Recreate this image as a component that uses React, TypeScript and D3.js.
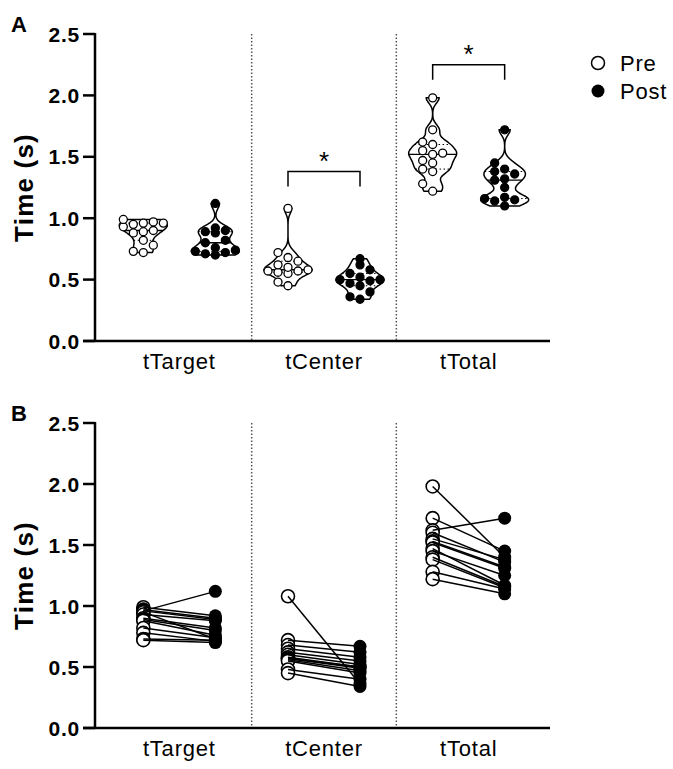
import React from "react";
import * as d3 from "d3";

// categories and conditions
const categories = ["tTarget", "tCenter", "tTotal"];
const conditions = ["Pre", "Post"];
const yTicks = [0, 0.5, 1.0, 1.5, 2.0, 2.5];

// per-subject times (s), same subject order in pre and post
const tTargetPre = [0.99, 0.97, 0.96, 0.96, 0.95, 0.93, 0.90, 0.89, 0.88, 0.82, 0.78, 0.73, 0.72];
const tTargetPost = [0.92, 0.90, 1.12, 0.89, 0.73, 0.88, 0.82, 0.80, 0.76, 0.74, 0.71, 0.72, 0.70];
const tCenterPre = [1.08, 0.72, 0.68, 0.65, 0.62, 0.60, 0.58, 0.57, 0.57, 0.56, 0.55, 0.48, 0.45];
const tCenterPost = [0.36, 0.67, 0.62, 0.58, 0.55, 0.52, 0.50, 0.50, 0.49, 0.47, 0.45, 0.40, 0.34];
const tTotalPre = [1.98, 1.72, 1.62, 1.60, 1.55, 1.53, 1.52, 1.47, 1.45, 1.40, 1.38, 1.28, 1.22];
const tTotalPost = [1.40, 1.45, 1.72, 1.36, 1.38, 1.32, 1.31, 1.17, 1.25, 1.16, 1.15, 1.14, 1.10];

// significance brackets
const sigCategories = ["tCenter", "tTotal"];
const sigHeights = [1.38, 2.25];

const FONT = "'Liberation Sans', Arial, Helvetica, sans-serif";

const preSets = [tTargetPre, tCenterPre, tTotalPre];
const postSets = [tTargetPost, tCenterPost, tTotalPost];

const xGroup = d3.scaleBand<string>().domain(categories).range([107, 541]);
const xCond = d3.scalePoint<string>().domain(conditions).range([-36, 36]);
const center = (c: string) => (xGroup(c) as number) + xGroup.bandwidth() / 2;
const xPos = (c: string, k: string) => center(c) + (xCond(k) as number);

const yA = d3.scaleLinear().domain([0, 2.5]).range([341, 34]);
const yB = d3.scaleLinear().domain([0, 2.5]).range([728, 423]);

const BW = 0.042;
const MAXW = 24;

function kde(values: number[], bw: number) {
  return (v: number) =>
    d3.mean(values, (d) => Math.exp(-0.5 * ((v - d) / bw) ** 2)) as number;
}

function Violin({ values, cx, y, filled }: { values: number[]; cx: number; y: d3.ScaleLinear<number, number>; filled: boolean }) {
  const [lo, hi] = d3.extent(values) as [number, number];
  const dens = kde(values, BW);
  const samples = d3.range(121).map((i) => lo + ((hi - lo) * i) / 120);
  const ds = samples.map(dens);
  const peak = d3.max(ds) as number;
  const wAt = (v: number) => (dens(v) / peak) * MAXW;
  const pts = samples.map((s, i) => [s, (ds[i] / peak) * MAXW] as [number, number]);
  const area = d3
    .area<[number, number]>()
    .y((d) => y(d[0]))
    .x0((d) => cx - d[1])
    .x1((d) => cx + d[1])
    .curve(d3.curveMonotoneY);

  const sorted = values.slice().sort((a, b) => a - b);
  const med = d3.quantile(sorted, 0.5) as number;
  const q1 = d3.quantile(sorted, 0.25) as number;
  const q3 = d3.quantile(sorted, 0.75) as number;

  // swarm placement, roughly inside the violin outline
  const r = 4;
  const placed: { x: number; y: number }[] = [];
  sorted.forEach((v) => {
    const py = y(v);
    const lim = wAt(v) + 3;
    let best = { x: cx, y: py };
    let bestHit = Infinity;
    for (let k = 0; k < 12; k++) {
      const off = (k % 2 === 0 ? 1 : -1) * Math.ceil(k / 2) * 10;
      if (k > 0 && Math.abs(off) > lim) continue;
      const px = cx + off;
      const hit = d3.sum(placed, (p) => Math.max(0, 8.5 - Math.hypot(p.x - px, p.y - py)));
      if (hit < bestHit - 0.01) {
        bestHit = hit;
        best = { x: px, y: py };
      }
      if (hit === 0) break;
    }
    placed.push(best);
  });

  return (
    <g>
      <path d={area(pts) as string} fill="#fff" stroke="#000" strokeWidth={1.5} />
      <line x1={cx - wAt(med)} x2={cx + wAt(med)} y1={y(med)} y2={y(med)} stroke="#000" strokeWidth={1.4} />
      {[q1, q3].map((q, i) => (
        <line key={i} x1={cx - wAt(q)} x2={cx + wAt(q)} y1={y(q)} y2={y(q)} stroke="#000" strokeWidth={1} strokeDasharray="1.5 2.5" />
      ))}
      {placed.map((p, i) => (
        <circle key={i} cx={p.x} cy={p.y} r={r} fill={filled ? "#000" : "#fff"} stroke="#000" strokeWidth={1.3} />
      ))}
    </g>
  );
}

function Axes({ y, label }: { y: d3.ScaleLinear<number, number>; label: string }) {
  const [y0, y1] = y.range();
  const midY = (y0 + y1) / 2;
  return (
    <g fontFamily={FONT}>
      {categories.slice(1).map((c) => (
        <line key={c} x1={xGroup(c)} x2={xGroup(c)} y1={y1} y2={y0} stroke="#555" strokeWidth={1.5} strokeDasharray="1.5 2" />
      ))}
      <line x1={95} x2={95} y1={y1 - 1} y2={y0} stroke="#000" strokeWidth={2.5} />
      <line x1={83} x2={550} y1={y0} y2={y0} stroke="#000" strokeWidth={2.5} />
      {yTicks.map((t) => (
        <g key={t}>
          <line x1={83} x2={95} y1={y(t)} y2={y(t)} stroke="#000" strokeWidth={2.5} />
          <text x={80} y={y(t) + 7.5} textAnchor="end" fontSize={21} fontWeight="bold" letterSpacing={0.8}>
            {t.toFixed(1)}
          </text>
        </g>
      ))}
      <text transform={`translate(33,${midY}) rotate(-90)`} textAnchor="middle" fontSize={26} fontWeight="bold" letterSpacing={1.2}>
        Time (s)
      </text>
      <text x={11} y={y1 - 2} fontSize={22} fontWeight="bold">
        {label}
      </text>
      {categories.map((c) => (
        <text key={c} x={center(c)} y={y0 + 28} textAnchor="middle" fontSize={22} letterSpacing={0.8}>
          {c}
        </text>
      ))}
    </g>
  );
}

export default function App() {
  return (
    <svg width={673} height={769} style={{ display: "block", position: "absolute", left: 0, top: 0, background: "#fff" }}>
      {/* Panel A: violins */}
      <Axes y={yA} label="A" />
      {categories.map((c, i) => (
        <g key={c}>
          <Violin values={preSets[i]} cx={xPos(c, "Pre")} y={yA} filled={false} />
          <Violin values={postSets[i]} cx={xPos(c, "Post")} y={yA} filled={true} />
        </g>
      ))}
      {sigCategories.map((c, i) => {
        const x1 = xPos(c, "Pre");
        const x2 = xPos(c, "Post");
        const yy = yA(sigHeights[i]);
        return (
          <g key={c}>
            <path d={`M${x1},${yy + 15}V${yy}H${x2}V${yy + 15}`} fill="none" stroke="#000" strokeWidth={1.5} />
            <text x={(x1 + x2) / 2} y={yy - 2} textAnchor="middle" fontFamily={FONT} fontSize={26}>
              *
            </text>
          </g>
        );
      })}
      {/* legend */}
      <g fontFamily={FONT} fontSize={22}>
        <circle cx={598} cy={63} r={6.5} fill="#fff" stroke="#000" strokeWidth={1.5} />
        <text x={620} y={71} letterSpacing={0.8}>Pre</text>
        <circle cx={598} cy={91} r={6.5} fill="#000" />
        <text x={620} y={99} letterSpacing={0.8}>Post</text>
      </g>

      {/* Panel B: paired lines */}
      <Axes y={yB} label="B" />
      {categories.map((c, i) => {
        const xp = xPos(c, "Pre");
        const xq = xPos(c, "Post");
        return (
          <g key={c}>
            {preSets[i].map((v, j) => (
              <circle key={"p" + j} cx={xp} cy={yB(v)} r={6.5} fill="#fff" stroke="#000" strokeWidth={1.6} />
            ))}
            {preSets[i].map((v, j) => (
              <line key={"l" + j} x1={xp} y1={yB(v)} x2={xq} y2={yB(postSets[i][j])} stroke="#000" strokeWidth={1.5} />
            ))}
            {postSets[i].map((v, j) => (
              <circle key={"q" + j} cx={xq} cy={yB(v)} r={6.5} fill="#000" />
            ))}
          </g>
        );
      })}
    </svg>
  );
}
